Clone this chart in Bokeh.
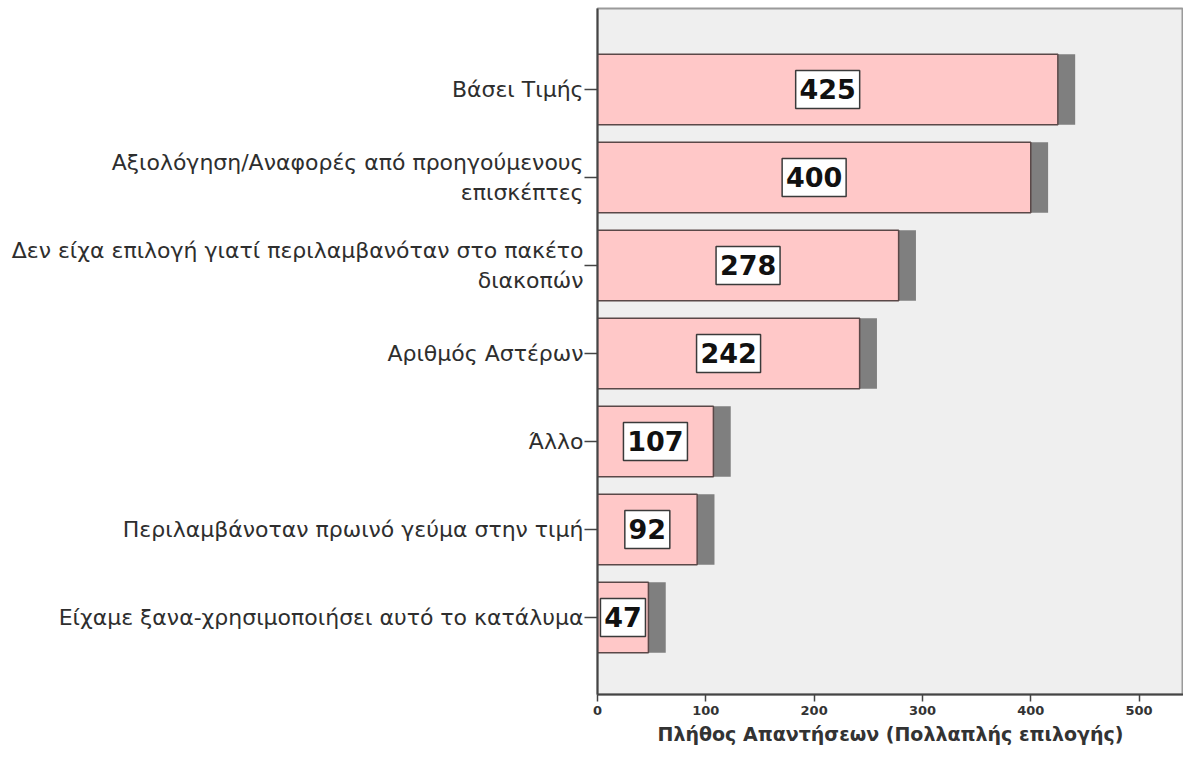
from bokeh.plotting import figure
from bokeh.models import Range1d, FixedTicker, ColumnDataSource
from bokeh.core.properties import value
from bokeh.embed import file_html
from bokeh.resources import INLINE

categories = [
    "Βάσει Τιμής",
    "Αξιολόγηση/Αναφορές από προηγούμενους\nεπισκέπτες",
    "Δεν είχα επιλογή γιατί περιλαμβανόταν στο πακέτο\nδιακοπών",
    "Αριθμός Αστέρων",
    "Άλλο",
    "Περιλαμβάνοταν πρωινό γεύμα στην τιμή",
    "Είχαμε ξανα-χρησιμοποιήσει αυτό το κατάλυμα",
]
counts = [425, 400, 278, 242, 107, 92, 47]
x_ticks = [0, 100, 200, 300, 400, 500]
x_title = "Πλήθος Απαντήσεων (Πολλαπλής επιλογής)"

ypos = list(range(len(categories)))
shadow_off = 16
src = ColumnDataSource(dict(
    y=ypos,
    v=counts,
    mid=[c / 2 for c in counts],
    sh_left=[shadow_off for _ in counts],
    sh_right=[c + shadow_off for c in counts],
    txt=[str(c) for c in counts],
    boxw=[len(str(c)) * 19 + 7 for c in counts],
))

p = figure(width=1183, height=752, output_backend="svg", toolbar_location=None,
           x_range=Range1d(0, 541), y_range=Range1d(6.875, -0.92))
p.min_border_left = 597
p.min_border_top = 8
p.min_border_right = 0
p.min_border_bottom = 58
p.background_fill_color = "#efefef"
p.border_fill_color = "white"
p.outline_line_color = "#9a9a9a"
p.outline_line_width = 2
p.grid.visible = False

# shadows
p.hbar(y="y", left="sh_left", right="sh_right", height=0.8, source=src,
       fill_color="#7f7f7f", line_color=None)
# bars
p.hbar(y="y", left=0, right="v", height=0.8, source=src,
       fill_color="#ffc8c8", line_color="#5a4848", line_width=1.5)
# value boxes
p.rect(x="mid", y="y", width="boxw", height=38, width_units="screen", height_units="screen",
       source=src, fill_color="white", line_color="#3a3a3a", line_width=1.5)
p.text(x="mid", y="y", text="txt", source=src, text_align="center", text_baseline="middle",
       text_font=value("DejaVu Sans"), text_font_style="bold", text_font_size="27px",
       text_color="#111111")

# y axis
ya = p.yaxis[0]
ya.ticker = FixedTicker(ticks=ypos)
ya.major_label_overrides = {i: c for i, c in zip(ypos, categories)}
ya.major_label_text_font = "DejaVu Sans"
ya.major_label_text_font_size = "22px"
ya.major_label_text_color = "#2e2e2e"
ya.major_label_standoff = 1
ya.major_tick_out = 13
ya.major_tick_in = 0
ya.minor_tick_line_color = None
ya.axis_line_color = "#444444"
ya.axis_line_width = 2
ya.major_tick_line_color = "#444444"
ya.major_tick_line_width = 1.5

# x axis
xa = p.xaxis[0]
xa.ticker = FixedTicker(ticks=x_ticks)
xa.major_label_text_font = "DejaVu Sans"
xa.major_label_text_font_style = "bold"
xa.major_label_text_font_size = "13px"
xa.major_label_text_color = "#333333"
xa.major_label_standoff = 4
xa.major_tick_out = 7
xa.major_tick_in = 0
xa.minor_tick_line_color = None
xa.axis_line_color = "#444444"
xa.axis_line_width = 2
xa.major_tick_line_color = "#444444"
xa.major_tick_line_width = 1.5
xa.axis_label = x_title
xa.axis_label_text_font = "DejaVu Sans"
xa.axis_label_text_font_style = "bold"
xa.axis_label_text_font_size = "19px"
xa.axis_label_text_color = "#333333"
xa.axis_label_standoff = 5

open("out.html", "w").write(file_html(p, INLINE))
